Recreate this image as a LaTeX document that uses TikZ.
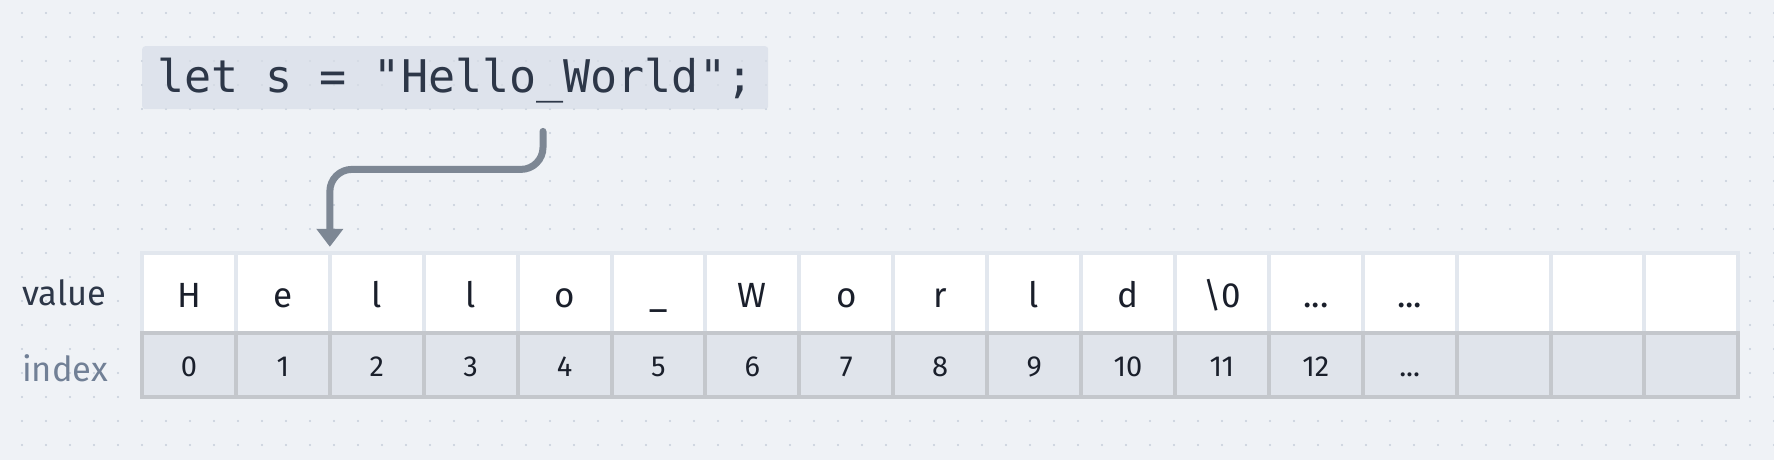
\documentclass[tikz,border=0pt]{standalone}
\usepackage{fontspec}
\setmainfont{Fira Sans}
\newfontfamily\codefont{DejaVu Sans Mono}
\usepackage{tikz}
\usetikzlibrary{arrows.meta, calc, positioning}
\definecolor{Canvas}   {HTML}{EFF2F6}
\definecolor{GridDot}  {HTML}{C6CEDA}
\definecolor{CodeBg}   {HTML}{D8DEE8}
\definecolor{Ink}      {HTML}{2D3748}
\definecolor{CellInk}  {HTML}{1A1F2B}
\definecolor{Slate}    {HTML}{718096}
\definecolor{Pointer}  {HTML}{7D8794}
\definecolor{ValFrame} {HTML}{E2E7EE}
\definecolor{IdxFrame} {HTML}{C4C7CC}
\definecolor{IdxFill}  {HTML}{E0E4EB}
\newcommand{\moredots}{...}

\tikzset{
  griddot/.style={fill=GridDot},
  codebox/.style={fill=CodeBg, fill opacity=0.7, text opacity=1,
                  rounded corners=3pt, text=Ink, inner xsep=15pt, inner ysep=0pt,
                  minimum height=63pt, text height=34pt, text depth=5pt,
                  font=\codefont\fontsize{45}{50}\selectfont},
  valcell/.style={fill=white, minimum width=89.9pt, minimum height=76pt,
                  inner sep=0pt, text height=28pt, text depth=0pt, text=CellInk,
                  font=\fontsize{35}{40}\selectfont},
  idxcell/.style={fill=IdxFill, minimum width=89.9pt, minimum height=60pt,
                  inner sep=0pt, text height=22pt, text depth=0pt, text=CellInk,
                  font=\fontsize{29}{34}\selectfont},
  rowlabel/.style={inner sep=0pt, anchor=base west, font=\fontsize{34.5}{38}\selectfont},
  ptr/.style={draw=Pointer, line width=7pt, line cap=round, rounded corners=22pt,
              -{Triangle[width=26pt, length=18pt]}}
}

\begin{document}
\begin{tikzpicture}[x=1pt, y=-1pt]
  \useasboundingbox (0,0) rectangle (1774,460);
  \fill[Canvas] (0,0) rectangle (1774,460);
  % Dot grid
  \foreach \gx in {22,46,...,1774}
    \foreach \gy in {13,37,...,445}
      \fill[griddot] (\gx,\gy) circle (1.1);
  % Source line
  \node[codebox, anchor=north west] (code) at (142,46) {let s = "Hello\_World";};
  % Table frames
  \fill[ValFrame] (140,251) rectangle (1740.3,335);
  \fill[IdxFrame] (140,331) rectangle (1740.3,399);
  % Value row
  \foreach \ch [count=\k from 0] in
      {H,e,l,l,o,\_,W,o,r,l,d,\textbackslash0,\moredots,\moredots,{},{},{}}
    \node[valcell] (v\k) at (189+93.9*\k, 293) {\ch};
  % Index row
  \foreach \ix [count=\k from 0] in {0,1,2,3,4,5,6,7,8,9,10,11,12,\moredots,{},{},{}}
    \node[idxcell] (i\k) at (189+93.9*\k, 365) {\ix};
  % Row labels
  \node[rowlabel, text=Ink]   (lblval) at (22,305) {value};
  \node[rowlabel, text=Slate] (lblidx) at (22,381) {index};
  % Pointer from the literal into the buffer
  \coordinate (src) at ($(code.south west)+(401,22)$);
  \coordinate (dst) at ($(v1.north east)!0.5!(v2.north west)+(0,-8)$);
  \draw[ptr] (src) -- ++(0,38) -| (dst);
\end{tikzpicture}
\end{document}
